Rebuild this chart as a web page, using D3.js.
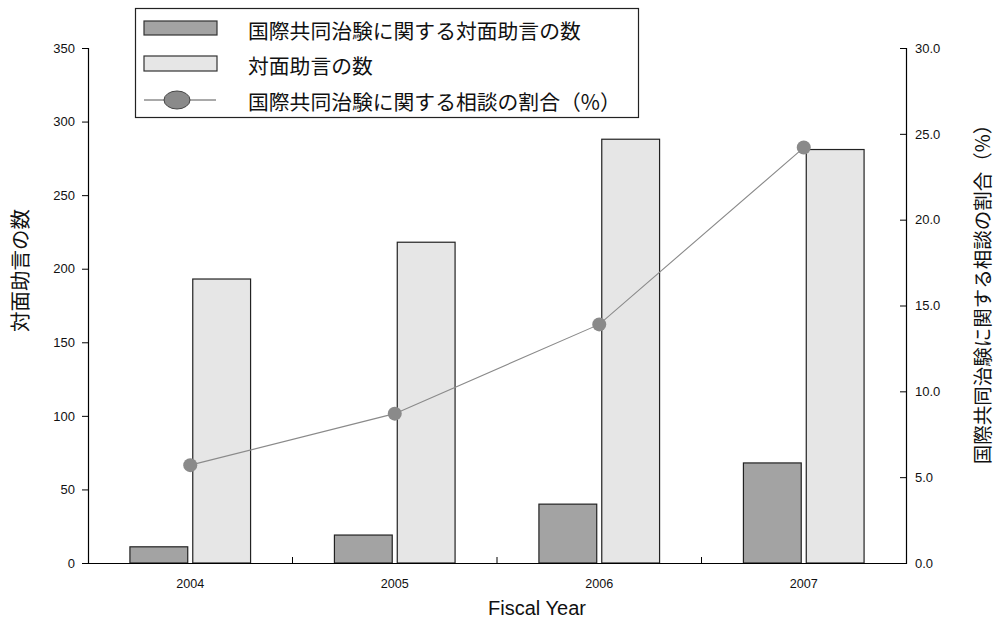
<!DOCTYPE html>
<html>
<head>
<meta charset="utf-8">
<script src="https://cdn.jsdelivr.net/npm/d3@7"></script>
<style>
  html, body { margin: 0; padding: 0; background: #fff; }
  svg { display: block; }
  .num { font-family: "Liberation Sans", Arial, sans-serif; font-size: 13px; fill: #111; }
  .jp { font-family: "Noto Sans CJK JP", sans-serif; fill: #111; }
</style>
</head>
<body>
<svg id="chart" width="996" height="622"></svg>
<script>
// Fiscal years on the category axis
const years = ["2004", "2005", "2006", "2007"];
// Face-to-face consultations on multinational trials (count)
const intlCounts = [11, 19, 40, 68];
// All face-to-face consultations (count)
const totalCounts = [193, 218, 288, 281];
// Share of consultations concerning multinational trials (%)
const intlShare = [5.7, 8.7, 13.9, 24.2];
// Axis tick values
const leftTicks = [0, 50, 100, 150, 200, 250, 300, 350];
const rightTicks = [0, 5, 10, 15, 20, 25, 30];

const seriesNames = ["国際共同治験に関する対面助言の数", "対面助言の数", "国際共同治験に関する相談の割合（%）"];
const leftTitle = "対面助言の数";
const rightTitle = "国際共同治験に関する相談の割合（%）";
const xTitle = "Fiscal Year";

const svg = d3.select("#chart");
const plot = { left: 88, right: 906, top: 48, bottom: 563 };

const x = d3.scaleBand().domain(years).range([plot.left, plot.right]);
const bw = x.bandwidth();
const xInner = d3.scaleBand().domain(["intl", "total"])
  .range([bw * 0.205, bw * 0.795]).paddingInner(0.08);
const yL = d3.scaleLinear().domain([0, 350]).range([plot.bottom, plot.top]);
const yR = d3.scaleLinear().domain([0, 30]).range([plot.bottom, plot.top]);

const rows = years.map((yr, i) => ({ yr, intl: intlCounts[i], total: totalCounts[i], pct: intlShare[i] }));

// Bars
const groups = svg.append("g").selectAll("g").data(rows).join("g")
  .attr("transform", d => `translate(${x(d.yr)},0)`);
groups.append("rect")
  .attr("x", xInner("intl")).attr("width", xInner.bandwidth())
  .attr("y", d => yL(d.intl)).attr("height", d => yL(0) - yL(d.intl))
  .attr("fill", "#a3a3a3").attr("stroke", "#222").attr("stroke-width", 1.2);
groups.append("rect")
  .attr("x", xInner("total")).attr("width", xInner.bandwidth())
  .attr("y", d => yL(d.total)).attr("height", d => yL(0) - yL(d.total))
  .attr("fill", "#e6e6e6").attr("stroke", "#222").attr("stroke-width", 1.2);

// Share line and markers
const cx = d => x(d.yr) + bw / 2;
svg.append("path").datum(rows)
  .attr("fill", "none").attr("stroke", "#8a8a8a").attr("stroke-width", 1.1)
  .attr("d", d3.line().x(cx).y(d => yR(d.pct)));
svg.append("g").selectAll("circle").data(rows).join("circle")
  .attr("cx", cx).attr("cy", d => yR(d.pct)).attr("r", 7)
  .attr("fill", "#8a8a8a");

// Left axis
const gL = svg.append("g").attr("transform", `translate(${plot.left},0)`)
  .call(d3.axisLeft(yL).tickValues(leftTicks).tickSize(6).tickPadding(7));
gL.selectAll("text").attr("class", "num");

// Right axis (ticks point inward)
const gR = svg.append("g").attr("transform", `translate(${plot.right},0)`)
  .call(d3.axisRight(yR).tickValues(rightTicks).tickSize(-6).tickPadding(9).tickFormat(d3.format(".1f")));
gR.selectAll("text").attr("class", "num");

// Bottom axis: labels at band centres, ticks at category boundaries
const gB = svg.append("g").attr("transform", `translate(0,${plot.bottom})`)
  .call(d3.axisBottom(x).tickSize(0).tickPadding(16));
gB.selectAll("text").attr("class", "num").style("font-size", "12.6px");
svg.append("g").selectAll("line").data(years.slice(1)).join("line")
  .attr("x1", d => x(d)).attr("x2", d => x(d))
  .attr("y1", plot.bottom).attr("y2", plot.bottom - 6)
  .attr("stroke", "#000");

svg.selectAll(".domain").attr("stroke", "#000").attr("stroke-width", 1.2);
svg.selectAll(".tick line").attr("stroke", "#000");

// Axis titles
svg.append("text").attr("class", "jp")
  .attr("transform", `translate(19,${(plot.top + plot.bottom) / 2 - 35}) rotate(-90)`)
  .attr("text-anchor", "middle").attr("dominant-baseline", "central")
  .style("font-size", "20.5px").text(leftTitle);
svg.append("text").attr("class", "jp")
  .attr("transform", `translate(981,${(plot.top + plot.bottom) / 2 - 16}) rotate(-90)`)
  .attr("text-anchor", "middle").attr("dominant-baseline", "central")
  .style("font-size", "19.5px").text(rightTitle);
svg.append("text")
  .attr("x", (plot.left + plot.right) / 2 + 40).attr("y", 615)
  .attr("text-anchor", "middle").attr("fill", "#111")
  .style("font-size", "20px").style("font-family", "\"Liberation Sans\", Arial, sans-serif")
  .text(xTitle);

// Legend
const lg = svg.append("g");
lg.append("rect").attr("x", 135.5).attr("y", 8.5).attr("width", 503).attr("height", 109)
  .attr("fill", "#fff").attr("stroke", "#222").attr("stroke-width", 1.2);
const rowY = [30, 65, 101];
lg.append("rect").attr("x", 144).attr("y", 21).attr("width", 73).attr("height", 14)
  .attr("fill", "#a3a3a3").attr("stroke", "#333").attr("stroke-width", 1.2);
lg.append("rect").attr("x", 144).attr("y", 56).attr("width", 73).attr("height", 15)
  .attr("fill", "#e6e6e6").attr("stroke", "#333").attr("stroke-width", 1.2);
lg.append("line").attr("x1", 144).attr("x2", 216).attr("y1", 100).attr("y2", 100)
  .attr("stroke", "#555").attr("stroke-width", 1);
lg.append("ellipse").attr("cx", 177).attr("cy", 100).attr("rx", 13).attr("ry", 9)
  .attr("fill", "#8a8a8a").attr("stroke", "#444").attr("stroke-width", 1);
lg.selectAll("text.item").data(seriesNames).join("text")
  .attr("class", "jp item").attr("x", 248).attr("y", (d, i) => rowY[i])
  .attr("dominant-baseline", "central").style("font-size", "20.8px")
  .text(d => d);
</script>
</body>
</html>
